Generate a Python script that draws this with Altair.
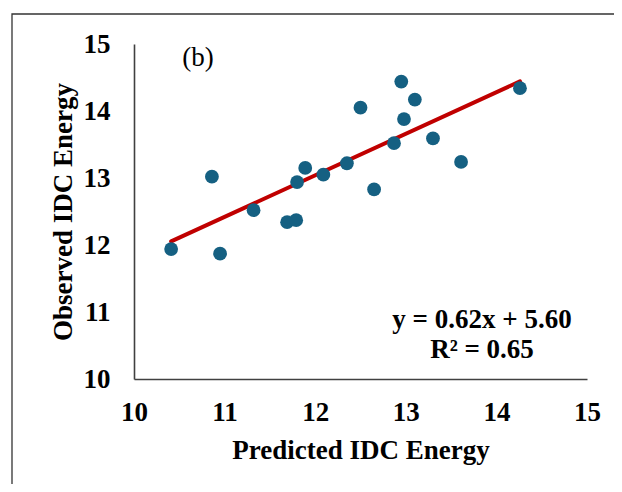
import altair as alt
import pandas as pd

# Data
predicted = [10.41, 10.86, 10.95, 11.32, 11.69, 11.79, 11.80, 11.89, 12.09, 12.35,
             12.50, 12.65, 12.87, 12.95, 12.98, 13.10, 13.30, 13.61, 14.26]
observed = [11.94, 13.02, 11.87, 12.52, 12.34, 12.37, 12.94, 13.15, 13.05, 13.22,
            14.05, 12.83, 13.52, 14.44, 13.88, 14.17, 13.59, 13.24, 14.34]
axis_ticks = [10, 11, 12, 13, 14, 15]
slope = 0.62
intercept = 5.60
eq_label = "y = 0.62x + 5.60"
r2_label = "R² = 0.65"
panel_label = "(b)"

FONT = "Liberation Serif"
FS = 27

df = pd.DataFrame({"Predicted": predicted, "Observed": observed})
x_ends = [min(predicted), max(predicted)]
line_df = pd.DataFrame({"Predicted": x_ends,
                        "Observed": [slope * v + intercept for v in x_ends]})

xscale = alt.Scale(domain=[10, 15], nice=False, zero=False)
yscale = alt.Scale(domain=[10, 15], nice=False, zero=False)

xaxis = alt.Axis(title="Predicted IDC Energy", values=axis_ticks, format="d", grid=False,
                 ticks=False, tickSize=0, labelPadding=41, labelBaseline="alphabetic",
                 labelFlush=False, labelOverlap=False,
                 titleX=226.5, titleY=79, titleBaseline="alphabetic", titleAlign="center")
yaxis = alt.Axis(title="Observed IDC Energy", values=axis_ticks, format="d", grid=False,
                 ticks=False, tickSize=0, labelPadding=24, labelBaseline="middle",
                 labelFlush=False, labelOverlap=False,
                 titleX=-63, titleY=167.5, titleAngle=-90, titleBaseline="alphabetic",
                 titleAlign="center")

points = alt.Chart(df).mark_circle(size=190, color="#156082", opacity=1).encode(
    x=alt.X("Predicted:Q", scale=xscale, axis=xaxis),
    y=alt.Y("Observed:Q", scale=yscale, axis=yaxis),
)

trend = alt.Chart(line_df).mark_line(color="#C00000", strokeWidth=4, strokeCap="round").encode(
    x=alt.X("Predicted:Q", scale=xscale, axis=xaxis),
    y=alt.Y("Observed:Q", scale=yscale, axis=yaxis),
)

one = pd.DataFrame({"a": [0]})

border = alt.Chart(one).mark_rect(
    fillOpacity=0, stroke="#333333", strokeWidth=1.3
).encode(x=alt.value(-122), x2=alt.value(496), y=alt.value(-30), y2=alt.value(456))

panel = alt.Chart(one).mark_text(
    font=FONT, fontSize=FS, fontWeight="normal", color="black", align="center",
    baseline="alphabetic", text=panel_label
).encode(x=alt.value(64), y=alt.value(22))

eq1 = alt.Chart(one).mark_text(
    font=FONT, fontSize=FS, fontWeight="bold", color="black", align="center",
    baseline="alphabetic", text=eq_label
).encode(x=alt.value(348), y=alt.value(284))

eq2 = alt.Chart(one).mark_text(
    font=FONT, fontSize=FS, fontWeight="bold", color="black", align="center",
    baseline="alphabetic", text=r2_label
).encode(x=alt.value(348), y=alt.value(314))

chart = alt.layer(trend, points, border, panel, eq1, eq2).properties(
    width=453, height=335,
    padding={"left": 126, "top": 36, "right": 27, "bottom": 105},
    autosize=alt.AutoSizeParams(type="none"),
).configure_view(stroke="transparent").configure_axis(
    labelFont=FONT, labelFontSize=FS, labelFontWeight="bold", labelColor="black",
    titleFont=FONT, titleFontSize=FS, titleFontWeight="bold", titleColor="black",
    domainColor="#404040", domainWidth=1.6,
)

chart.save("out.html", embed_options={"renderer": "svg", "actions": False})
